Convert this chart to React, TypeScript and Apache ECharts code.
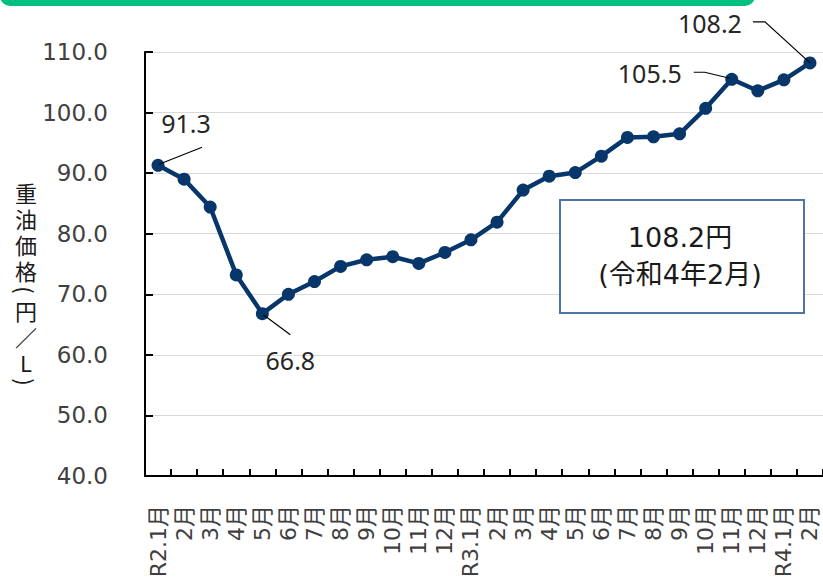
import React, { useEffect, useRef } from "react";
import * as echarts from "echarts";

const categories = [
  "R2.1月", "2月", "3月", "4月", "5月", "6月", "7月", "8月", "9月", "10月", "11月", "12月",
  "R3.1月", "2月", "3月", "4月", "5月", "6月", "7月", "8月", "9月", "10月", "11月", "12月",
  "R4.1月", "2月",
];
const prices = [
  91.3, 89.0, 84.4, 73.2, 66.8, 70.0, 72.1, 74.6, 75.7, 76.2, 75.1, 76.9,
  79.0, 81.9, 87.2, 89.5, 90.1, 92.8, 95.9, 96.0, 96.5, 100.7, 105.5, 103.6,
  105.4, 108.2,
];
const yMin = 40;
const yMax = 110;
const yStep = 10;
const yTitleHead = ["重", "油", "価", "格"];
const yTitleUnit = ["円", "／", "L"];
const calloutIdx = [0, 4, 22, 25];
const boxLines = ["108.2円", "(令和4年2月)"];

const LINE_COLOR = "#07376A";
const TEXT_COLOR = "#404040";
const CJK = "'Noto Sans CJK JP', sans-serif";
const NUMFONT = "'DejaVu Sans', 'Noto Sans CJK JP', sans-serif";

export default function App() {
  const ref = useRef<HTMLDivElement>(null);
  useEffect(() => {
    if (!ref.current) return;
    const chart = echarts.init(ref.current, undefined, { renderer: "svg" });
    chart.setOption({
      animation: false,
      backgroundColor: "#ffffff",
      grid: { left: 145, top: 52, width: 681, height: 424, containLabel: false },
      xAxis: {
        type: "category",
        data: categories,
        boundaryGap: true,
        axisLine: { show: true, lineStyle: { color: "#000", width: 2 } },
        axisTick: { show: true, inside: true, length: 7, lineStyle: { color: "#000", width: 2 } },
        axisLabel: {
          interval: 0,
          rotate: 90,
          margin: 29,
          color: TEXT_COLOR,
          fontSize: 22,
          fontFamily: NUMFONT,
        },
        splitLine: { show: false },
      },
      yAxis: {
        type: "value",
        min: yMin,
        max: yMax,
        interval: yStep,
        axisLine: { show: true, lineStyle: { color: "#000", width: 2 } },
        axisTick: { show: true, inside: true, length: 8, lineStyle: { color: "#000", width: 2 } },
        axisLabel: {
          margin: 37,
          color: TEXT_COLOR,
          fontSize: 23,
          fontFamily: NUMFONT,
          formatter: (v: number) => v.toFixed(1),
        },
        splitLine: { show: true, lineStyle: { color: "#d9d9d9", width: 1 } },
      },
      series: [
        {
          type: "line",
          data: prices,
          symbol: "circle",
          symbolSize: 13,
          lineStyle: { color: LINE_COLOR, width: 4.5 },
          itemStyle: { color: LINE_COLOR },
          z: 3,
        },
      ],
    });

    const pix = (i: number) =>
      chart.convertToPixel({ seriesIndex: 0 }, [i, prices[i]]) as number[];

    const leaders: number[][][] = [
      [[1, -1], [44, -18]],
      [[1, 1], [28, 21]],
      [[-2, -1], [-27, -7], [-38, -7]],
      [[0, 0], [-45, -41], [-57, -41]],
    ];
    const labelOffsets = [
      [28, -42],
      [28, 46],
      [-82, -6],
      [-100, -40],
    ];

    const graphics: any[] = [];
    graphics.push({
      type: "rect",
      shape: { x: 0, y: -20, width: 755, height: 26, r: 10 },
      style: { fill: "#00C07F" },
      z: 100,
    });
    calloutIdx.forEach((idx, k) => {
      const [px, py] = pix(idx);
      graphics.push({
        type: "polyline",
        shape: { points: leaders[k].map(([dx, dy]) => [px + dx, py + dy]) },
        style: { stroke: "#000", lineWidth: 1.2, fill: null },
        z: 100,
      });
      graphics.push({
        type: "text",
        x: px + labelOffsets[k][0],
        y: py + labelOffsets[k][1],
        style: {
          text: prices[idx].toFixed(1),
          fill: "#262626",
          font: `25px 'Noto Sans', sans-serif`,
          textAlign: "center",
          textVerticalAlign: "middle",
        },
        z: 100,
      });
    });
    graphics.push({
      type: "rect",
      shape: { x: 560, y: 200, width: 244, height: 113 },
      style: { fill: "#fff", stroke: "#4C74A6", lineWidth: 2 },
      z: 100,
    });
    graphics.push({
      type: "text",
      x: 680,
      y: 256,
      style: {
        text: boxLines.join("\n"),
        fill: "#1a1a1a",
        font: `27px ${NUMFONT}`,
        lineHeight: 37,
        textAlign: "center",
        textVerticalAlign: "middle",
      },
      z: 101,
    });
    // vertical y-axis title: stacked characters with rotated parentheses
    const titleStyle = {
      fill: "#1a1a1a",
      font: `22px ${CJK}`,
      lineHeight: 26,
      textAlign: "center",
      textVerticalAlign: "top",
    };
    graphics.push({
      type: "text",
      x: 26,
      y: 179,
      style: { ...titleStyle, text: yTitleHead.join("\n") },
      z: 100,
    });
    graphics.push({
      type: "text",
      x: 26,
      y: 297,
      style: { ...titleStyle, text: yTitleUnit.join("\n") },
      z: 100,
    });
    [["(", 290], [")", 382]].forEach(([c, y]) => {
      graphics.push({
        type: "text",
        x: 26,
        y: y as number,
        rotation: -Math.PI / 2,
        style: {
          text: c as string,
          fill: "#1a1a1a",
          font: `22px ${CJK}`,
          textAlign: "center",
          textVerticalAlign: "middle",
        },
        z: 100,
      });
    });
    chart.setOption({ graphic: graphics });

    return () => chart.dispose();
  }, []);
  return (
    <div
      ref={ref}
      style={{ position: "fixed", left: 0, top: 0, width: 823, height: 582 }}
    />
  );
}
